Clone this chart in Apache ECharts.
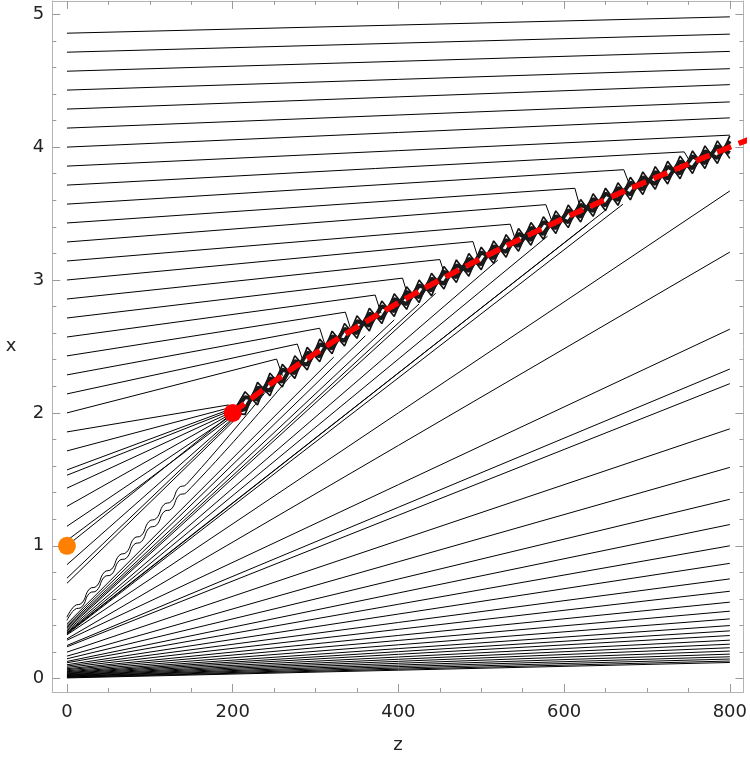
<!DOCTYPE html>
<html>
<head>
<meta charset="utf-8">
<script src="https://cdn.jsdelivr.net/npm/echarts@6/dist/echarts.min.js"></script>
<style>
  html, body { margin: 0; padding: 0; background: #fff; }
  #chart { width: 750px; height: 759px; }
</style>
</head>
<body>
<div id="chart"></div>
<script>
// ticks
var zTicks = [0, 200, 400, 600, 800];
var zMinor = [50, 100, 150, 250, 300, 350, 450, 500, 550, 650, 700, 750];
var xTicks = [0, 1, 2, 3, 4, 5];
var xMinor = [0.2, 0.4, 0.6, 0.8, 1.2, 1.4, 1.6, 1.8, 2.2, 2.4, 2.6, 2.8, 3.2, 3.4, 3.6, 3.8, 4.2, 4.4, 4.6, 4.8];

// upper characteristics: start x, point where they bend, end on the band
var upperX0 = [4.857, 4.714, 4.571, 4.429, 4.286, 4.143, 4.0, 3.857, 3.714, 3.571, 3.429, 3.286, 3.143, 3.0, 2.857, 2.714, 2.571, 2.429, 2.286, 2.143, 2.0, 1.857, 1.714, 1.571];
var upperBendZ = [800, 800, 800, 800, 800, 800, 800, 800, 745, 672, 613, 578, 535, 490, 450, 405, 372, 336, 305, 278, 253, 195, 197, 198];
var upperBendX = [4.98, 4.85, 4.72, 4.59, 4.47, 4.34, 4.22, 4.09, 3.964, 3.83, 3.69, 3.567, 3.42, 3.289, 3.154, 3.014, 2.887, 2.758, 2.637, 2.518, 2.405, 2.06, 2.04, 2.03];
var upperEndZ = [800, 800, 800, 800, 800, 800, 800, 800, 752, 680, 620, 586, 542, 497, 457, 412, 379, 343, 312, 285, 260, 200, 200, 200];
var upperEndX = [4.98, 4.85, 4.72, 4.59, 4.47, 4.34, 4.22, 4.09, 3.89, 3.70, 3.53, 3.43, 3.29, 3.15, 3.02, 2.87, 2.75, 2.62, 2.50, 2.39, 2.28, 2.02, 2.01, 2.0];

// lines focusing on the red point
var focusX0 = [1.531, 1.434, 1.297, 1.147, 1.04, 1.0, 0.858, 0.756, 0.718];
var focusEndZ = [199, 200, 200, 201, 201, 200, 202, 202, 203];
var focusEndX = [2.02, 2.01, 2.0, 1.99, 1.98, 2.0, 1.97, 1.96, 1.95];

// the two wavy lines near the bottom left
var wavyZ = [0, 9, 18, 27, 36, 45, 54, 63, 72, 81, 90, 99, 108, 117, 126, 135, 144];
var wavy1X = [0.463, 0.547, 0.570, 0.674, 0.698, 0.801, 0.825, 0.928, 0.952, 1.056, 1.079, 1.183, 1.207, 1.310, 1.334, 1.437, 1.461];
var wavy2X = [0.438, 0.519, 0.541, 0.642, 0.664, 0.765, 0.786, 0.888, 0.909, 1.010, 1.032, 1.133, 1.155, 1.256, 1.277, 1.379, 1.400];
var wavyEndZ = [240, 270];
var wavyEndX = [2.16, 2.28];

// lines hitting the shock from below
var lowX0 = [0.413, 0.40, 0.39, 0.38, 0.37, 0.36, 0.35, 0.345, 0.34, 0.335];
var lowEndZ = [322, 360, 395, 425, 445, 520, 580, 629, 649, 671];
var lowEndX = [2.42, 2.58, 2.70, 2.82, 2.90, 3.15, 3.33, 3.42, 3.52, 3.57];

// fan reaching z = 800
var fanX0 = [0.33, 0.30, 0.29, 0.25, 0.24, 0.20, 0.17, 0.15, 0.13, 0.12, 0.105, 0.095, 0.085, 0.075, 0.068, 0.06, 0.053, 0.047, 0.042, 0.037, 0.032, 0.028, 0.024, 0.02, 0.017, 0.013, 0.01, 0.006];
var fanX800 = [3.67, 3.21, 2.63, 2.33, 2.22, 1.88, 1.59, 1.35, 1.16, 1.0, 0.868, 0.751, 0.658, 0.576, 0.508, 0.45, 0.40, 0.36, 0.325, 0.29, 0.26, 0.233, 0.208, 0.185, 0.165, 0.148, 0.133, 0.122];

// shock (red dashed)
var shockZ = [200, 250, 300, 350, 400, 450, 500, 550, 600, 650, 700, 750, 800, 822];
var shockX = [2.0, 2.236, 2.449, 2.646, 2.828, 3.0, 3.162, 3.317, 3.464, 3.606, 3.742, 3.873, 4.0, 4.055];

// zigzag band along the shock
var zigZ = [200, 215, 230, 245, 260, 275, 290, 305, 320, 335, 350, 365, 380, 395, 410, 425, 440, 455, 470, 485, 500, 515, 530, 545, 560, 575, 590, 605, 620, 635, 650, 665, 680, 695, 710, 725, 740, 755, 770, 785, 800];
var zigA = [2.000, 2.159, 2.060, 2.299, 2.195, 2.430, 2.323, 2.555, 2.445, 2.673, 2.561, 2.787, 2.672, 2.896, 2.779, 3.000, 2.881, 3.102, 2.981, 3.199, 3.077, 3.294, 3.171, 3.387, 3.262, 3.476, 3.350, 3.564, 3.436, 3.649, 3.521, 3.732, 3.603, 3.813, 3.683, 3.893, 3.762, 3.971, 3.839, 4.047, 3.915];
var zigB = [2.000, 1.989, 2.230, 2.129, 2.365, 2.260, 2.493, 2.385, 2.615, 2.503, 2.731, 2.617, 2.842, 2.726, 2.949, 2.830, 3.051, 2.932, 3.151, 3.029, 3.247, 3.124, 3.341, 3.217, 3.432, 3.306, 3.520, 3.394, 3.606, 3.479, 3.691, 3.562, 3.773, 3.643, 3.853, 3.723, 3.932, 3.801, 4.009, 3.877, 4.085];
var zigC = [2.000, 2.119, 2.100, 2.259, 2.235, 2.390, 2.363, 2.515, 2.485, 2.633, 2.601, 2.747, 2.712, 2.856, 2.819, 2.960, 2.921, 3.062, 3.021, 3.159, 3.117, 3.254, 3.211, 3.347, 3.302, 3.436, 3.390, 3.524, 3.476, 3.609, 3.561, 3.692, 3.643, 3.773, 3.723, 3.853, 3.802, 3.931, 3.879, 4.007, 3.955];
var zigD = [2.000, 2.029, 2.190, 2.169, 2.325, 2.300, 2.453, 2.425, 2.575, 2.543, 2.691, 2.657, 2.802, 2.766, 2.909, 2.870, 3.011, 2.972, 3.111, 3.069, 3.207, 3.164, 3.301, 3.257, 3.392, 3.346, 3.480, 3.434, 3.566, 3.519, 3.651, 3.602, 3.733, 3.683, 3.813, 3.763, 3.892, 3.841, 3.969, 3.917, 4.045];

var redPoint = [200, 2];
var orangePoint = [0, 1];

var chart = echarts.init(document.getElementById('chart'), null, { renderer: 'canvas' });

var zMin = -17.7, zMax = 816.4, xMin = -0.1, xMax = 5.1;
var frameColor = '#b4b4b4';
var tickColor = '#9a9a9a';
var font = 'DejaVu Sans';

function blackLine(data, w, smooth, color) {
    return {
        type: 'line',
        data: data,
        symbol: 'none',
        silent: true,
        smooth: !!smooth,
        lineStyle: { color: color || '#000', width: w || 1 }
    };
}
function zip(zs, xs) {
    var out = [];
    for (var i = 0; i < zs.length; i++) out.push([zs[i], xs[i]]);
    return out;
}

var series = [];
for (var i = 0; i < upperX0.length; i++) {
    series.push(blackLine([[0, upperX0[i]], [upperBendZ[i], upperBendX[i]], [upperEndZ[i], upperEndX[i]]]));
}
for (var i = 0; i < focusX0.length; i++) {
    series.push(blackLine([[0, focusX0[i]], [focusEndZ[i], focusEndX[i]]]));
}
var w1 = zip(wavyZ, wavy1X); w1.push([wavyEndZ[0], wavyEndX[0]]);
var w2 = zip(wavyZ, wavy2X); w2.push([wavyEndZ[1], wavyEndX[1]]);
series.push(blackLine(w1, 1, 0.5));
series.push(blackLine(w2, 1, 0.5));
for (var i = 0; i < lowX0.length; i++) {
    series.push(blackLine([[0, lowX0[i]], [lowEndZ[i], lowEndX[i]]]));
}
for (var i = 0; i < fanX0.length; i++) {
    series.push(blackLine([[0, fanX0[i]], [800, fanX800[i]]]));
}
// band of overlapping characteristics
series.push(blackLine(zip(zigZ, zigA), 1.6, false, '#111'));
series.push(blackLine(zip(zigZ, zigB), 1.6, false, '#111'));
series.push(blackLine(zip(zigZ, zigC), 4, false, '#1a1a1a'));
series.push(blackLine(zip(zigZ, zigD), 4, false, '#1a1a1a'));

// shock
series.push({
    type: 'line',
    data: zip(shockZ, shockX),
    symbol: 'none',
    smooth: true,
    clip: false,
    z: 5,
    lineStyle: { color: '#ff0000', width: 5.5, type: [15, 8] }
});
series.push({
    type: 'scatter',
    data: [redPoint],
    symbolSize: 18,
    z: 6,
    itemStyle: { color: '#ff0000', opacity: 1 }
});
series.push({
    type: 'scatter',
    data: [orangePoint],
    symbolSize: 18,
    clip: false,
    z: 6,
    itemStyle: { color: '#ff8000', opacity: 1 }
});

function zAxis(pos, minor, labels) {
    return {
        type: 'value', position: pos, min: zMin, max: zMax,
        name: labels ? 'z' : '', nameLocation: 'middle', nameGap: 44,
        nameTextStyle: { fontFamily: font, fontSize: 18, color: '#222' },
        axisLine: { show: !minor, onZero: false, lineStyle: { color: frameColor, width: 1 } },
        axisTick: { show: true, inside: true, length: minor ? 4 : 8, customValues: minor ? zMinor : zTicks, lineStyle: { color: tickColor } },
        axisLabel: { show: labels, customValues: zTicks, margin: 11, fontFamily: font, fontSize: 18, color: '#222' },
        splitLine: { show: false }
    };
}
function xAxisV(pos, minor, labels) {
    return {
        type: 'value', position: pos, min: xMin, max: xMax,
        name: labels ? 'x' : '', nameLocation: 'middle', nameGap: 36, nameRotate: 0,
        nameTextStyle: { fontFamily: font, fontSize: 18, color: '#222' },
        axisLine: { show: !minor, onZero: false, lineStyle: { color: frameColor, width: 1 } },
        axisTick: { show: true, inside: true, length: minor ? 4 : 8, customValues: minor ? xMinor : xTicks, lineStyle: { color: tickColor } },
        axisLabel: { show: labels, customValues: xTicks, margin: 8, fontFamily: font, fontSize: 18, color: '#222' },
        splitLine: { show: false }
    };
}

var option = {
    animation: false,
    backgroundColor: '#fff',
    grid: { left: 52.3, right: 4.3, top: 0.9, bottom: 65.7 },
    xAxis: [zAxis('bottom', false, true), zAxis('bottom', true, false), zAxis('top', false, false), zAxis('top', true, false)],
    yAxis: [xAxisV('left', false, true), xAxisV('left', true, false), xAxisV('right', false, false), xAxisV('right', true, false)],
    series: series
};
chart.setOption(option);
</script>
</body>
</html>
